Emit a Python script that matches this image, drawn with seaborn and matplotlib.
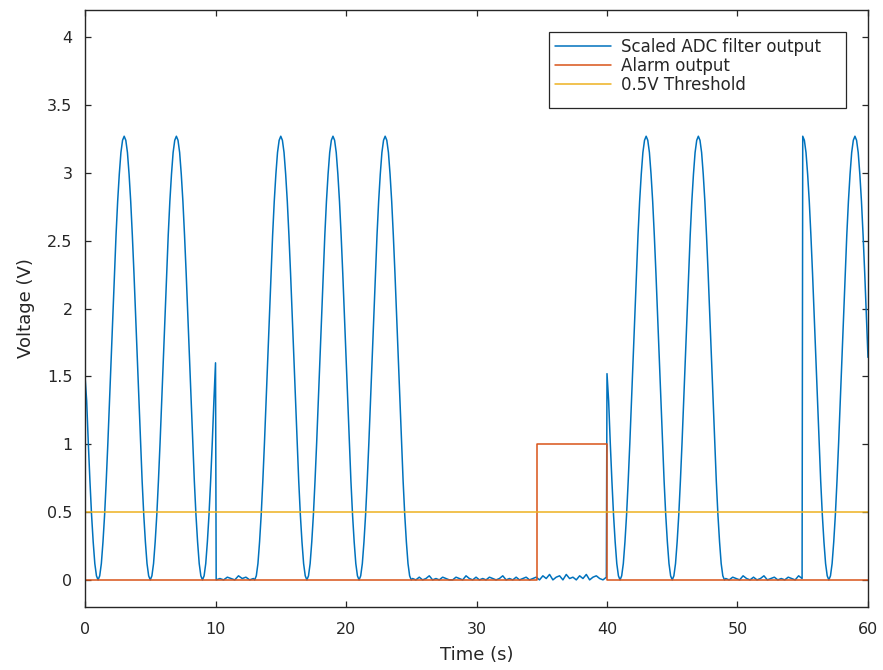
import numpy as np
import pandas as pd
import matplotlib
matplotlib.use("Agg")
import matplotlib.pyplot as plt
from matplotlib.patches import Rectangle
import seaborn as sns

# ---- data ----
# one full hump of the filtered signal, from minimum to minimum, read every 0.125 s
hump = [0.00, 0.03, 0.12, 0.28, 0.48, 0.73, 1.01, 1.32,
        1.64, 1.95, 2.26, 2.54, 2.79, 2.99, 3.15, 3.24,
        3.27, 3.24, 3.15, 2.99, 2.79, 2.54, 2.26, 1.95,
        1.64, 1.32, 1.01, 0.73, 0.48, 0.28, 0.12, 0.03]
lead1 = [1.50, 1.32, 1.01, 0.73, 0.48, 0.28, 0.12, 0.03]
tail1 = [0.00, 0.03, 0.12, 0.28, 0.48, 0.73, 1.01, 1.32, 1.60]
lead3 = [1.52, 1.32, 1.01, 0.73, 0.48, 0.28, 0.12, 0.03]
half_down4 = [3.27, 3.24, 3.15, 2.99, 2.79, 2.54, 2.26, 1.95,
              1.64, 1.32, 1.01, 0.73, 0.48, 0.28, 0.12, 0.03]
rise4 = [0.00, 0.03, 0.12, 0.28, 0.48, 0.73, 1.01, 1.32,
         1.64, 1.95, 2.26, 2.54, 2.79, 2.99, 3.15, 3.24,
         3.27, 3.24, 3.15, 2.99, 2.79, 2.54, 2.26, 1.95, 1.64]

burst1 = lead1 + hump + hump + tail1            # 0 s  -> 10 s
burst2 = hump + hump + hump + [0.00]            # 13 s -> 25 s
burst3 = lead3 + hump + hump + [0.00]           # 40 s -> 49 s
burst4 = half_down4 + rise4                     # 55 s -> 60 s

quiet1 = [0.00, 0.01, 0.00, 0.02, 0.01, 0.00, 0.03, 0.01, 0.02, 0.00, 0.01]
quiet2 = [0.01, 0.00, 0.02, 0.00, 0.01, 0.03, 0.00, 0.01, 0.00, 0.02,
          0.01, 0.00, 0.00, 0.02, 0.01, 0.00, 0.03, 0.01, 0.00, 0.02,
          0.00, 0.01, 0.00, 0.02, 0.01, 0.00, 0.01, 0.03, 0.00, 0.01,
          0.00, 0.02, 0.00, 0.01, 0.02, 0.00, 0.01,
          0.02, 0.00, 0.03, 0.01, 0.04, 0.00, 0.02, 0.03, 0.00, 0.04,
          0.01, 0.02, 0.00, 0.03, 0.01, 0.04, 0.00, 0.02, 0.03, 0.01,
          0.00, 0.02]
quiet3 = [0.01, 0.00, 0.02, 0.01, 0.00, 0.03, 0.01, 0.00, 0.02, 0.00,
          0.01, 0.03, 0.00, 0.01, 0.02, 0.00, 0.01, 0.00, 0.02, 0.01,
          0.00, 0.03, 0.01]

# segment start / end times (s)
segments = [(burst1, 0.0, 10.0), (quiet1, 10.05, 12.9), (burst2, 13.0, 25.0),
            (quiet2, 25.1, 39.95), (burst3, 40.0, 49.0), (quiet3, 49.1, 54.95),
            (burst4, 55.0, 60.0)]

alarm_time = [0.0, 34.6, 34.6, 40.0, 40.0, 60.0]
alarm_values = [0, 0, 1, 1, 0, 0]

threshold_time = [0.0, 60.0]
threshold_values = [0.5, 0.5]

labels = ["Scaled ADC filter output", "Alarm output", "0.5V Threshold"]
colors = ["#0072BD", "#D95319", "#EDB120"]

x_ticks = [0, 10, 20, 30, 40, 50, 60]
y_ticks = [0, 0.5, 1, 1.5, 2, 2.5, 3, 3.5, 4]
y_tick_labels = ["0", "0.5", "1", "1.5", "2", "2.5", "3", "3.5", "4"]

# ---- build the ADC table ----
adc_t, adc_v = [], []
for vals, t0, t1 in segments:
    adc_t.extend(np.linspace(t0, t1, len(vals)))
    adc_v.extend(vals)
df_adc = pd.DataFrame({"t": adc_t, "v": adc_v})
df_alarm = pd.DataFrame({"t": alarm_time, "v": alarm_values})
df_thr = pd.DataFrame({"t": threshold_time, "v": threshold_values})

# ---- plotting ----
sns.set_style("ticks")
plt.rcParams["font.family"] = ["DejaVu Sans"]
dark = "#262626"

fig = plt.figure(figsize=(8.83, 6.70), dpi=100)
ax = fig.add_axes([0.0963, 0.094, 0.8867, 0.891])

lw = 1.1
sns.lineplot(data=df_adc, x="t", y="v", ax=ax, color=colors[0], lw=lw, label=labels[0],
             estimator=None, sort=False)
sns.lineplot(data=df_alarm, x="t", y="v", ax=ax, color=colors[1], lw=lw, label=labels[1],
             estimator=None, sort=False)
sns.lineplot(data=df_thr, x="t", y="v", ax=ax, color=colors[2], lw=lw, label=labels[2],
             estimator=None, sort=False)

ax.set_xlim(0, 60)
ax.set_ylim(-0.2, 4.2)
ax.set_xticks(x_ticks)
ax.set_xticklabels([str(v) for v in x_ticks])
ax.set_yticks(y_ticks)
ax.set_yticklabels(y_tick_labels)

ax.set_xlabel("Time (s)", fontsize=13, color=dark, labelpad=6)
ax.set_ylabel("Voltage (V)", fontsize=13, color=dark, labelpad=9)

for s in ax.spines.values():
    s.set_visible(True)
    s.set_color(dark)
    s.set_linewidth(1.0)

ax.tick_params(axis="both", which="both", direction="in", length=4.5, width=0.9,
               colors=dark, labelsize=11.5, top=True, right=True)
ax.tick_params(axis="x", pad=11)
ax.tick_params(axis="y", pad=9)

# legend content without its own frame, then a MATLAB-like box around it
leg = ax.legend(loc="upper left", bbox_to_anchor=(555 / 883, 1 - 37.5 / 670),
                bbox_transform=fig.transFigure, fontsize=12, frameon=False,
                handlelength=3.35, handletextpad=0.6, labelspacing=0.07,
                borderpad=0.0, borderaxespad=0.0)
for t in leg.get_texts():
    t.set_color(dark)
box = Rectangle((549 / 883, 1 - 108 / 670), (846 - 549) / 883, (108 - 32) / 670,
                transform=fig.transFigure, facecolor="white", edgecolor=dark,
                linewidth=0.9, zorder=4)
ax.add_artist(box)
box.set_clip_on(False)
leg.set_zorder(5)

fig.savefig("out.png", dpi=100)
